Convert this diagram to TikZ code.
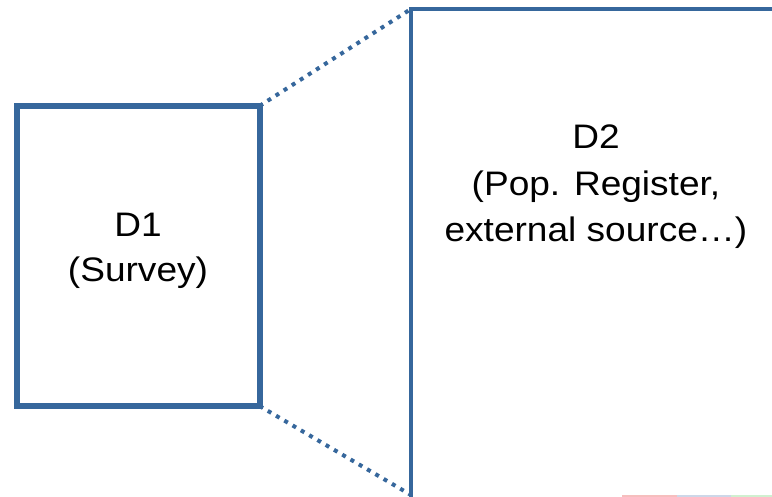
\documentclass[tikz,border=0pt]{standalone}
\usepackage{fontspec}
\setmainfont[FakeStretch=1.09]{Liberation Sans}
\definecolor{boxblue}{RGB}{54,103,156}
\definecolor{fpink}{RGB}{246,190,190}
\definecolor{fblue}{RGB}{205,215,232}
\definecolor{fgreen}{RGB}{208,240,208}
\tikzset{
  boxline/.style={draw=boxblue, outer sep=0pt, inner sep=0pt},
  dotline/.style={draw=boxblue, line width=4pt, dash pattern=on 4pt off 5.6pt},
  lbl/.style={anchor=base, inner sep=0pt, font=\fontsize{34}{40}\selectfont, text=black}
}
\begin{document}
\begin{tikzpicture}[x=1pt,y=1pt]
\useasboundingbox (0,0) rectangle (772,497);
\begin{scope}
\clip (0,0) rectangle (772,497);
% D1 box
\node[boxline, line width=6pt, minimum width=242.5pt, minimum height=300pt] (d1) at (138.25,241) {};
% D2 box (extends beyond the page)
\node[boxline, line width=4pt, minimum width=400pt, minimum height=520pt] (d2) at (611,228) {};
\coordinate (d2low) at (411,2);
% dotted connectors
\draw[dotline] (d1.north east) -- (d2.north west);
\draw[dotline] (d1.south east) -- (d2low);
% faint strip at the bottom
\coordinate (s0) at (622,1);
\coordinate (s1) at (677,1);
\coordinate (s2) at (731,1);
\coordinate (s3) at (772,1);
\draw[fpink, line width=1.2pt] (s0) -- (s1);
\draw[fblue, line width=1.2pt] (s1) -- (s2);
\draw[fgreen, line width=1.2pt] (s2) -- (s3);
\end{scope}
% labels
\node[lbl] (d1a) at (138,260) {D1};
\node[lbl] (d1b) at (138,215) {(Survey)};
\node[lbl] (d2a) at (596,348) {D2};
\node[lbl] (d2b) at (596,301) {(Pop. Register,};
\node[lbl] (d2c) at (596,255) {external source…)};
\end{tikzpicture}
\end{document}
